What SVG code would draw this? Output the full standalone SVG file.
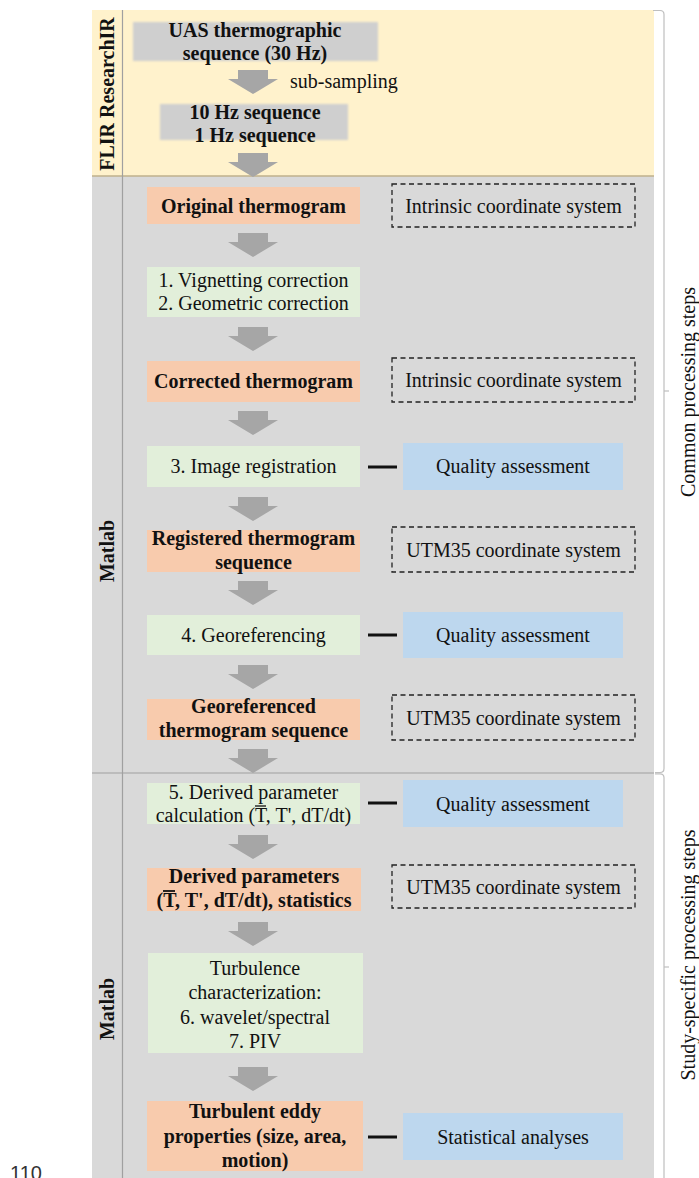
<svg xmlns="http://www.w3.org/2000/svg" width="699" height="1178" viewBox="0 0 699 1178">
<defs>
<style>
.t{font-family:"Liberation Serif","Times New Roman",serif;font-size:20px;fill:#111;text-anchor:middle}
.b{font-weight:bold}
.orange{fill:#F8CBAD}
.green{fill:#E2EFDA}
.blue{fill:#BDD7EE}
.grey{fill:#CFCFCF}
.dash{fill:none;stroke:#222;stroke-width:1.3;stroke-dasharray:5 3.5}
.arrow{fill:#A6A6A6}
.link{stroke:#111;stroke-width:3}
.brace{fill:none;stroke:#BFBFBF;stroke-width:1.2}
.bar{stroke:#111;stroke-width:1.3}
.barb{stroke:#111;stroke-width:1.8}
</style>
<path id="arr" d="M-15,0 H15 V9 H25 L0,24 L-25,9 H-15 Z"/>
<filter id="soft" x="-5%" y="-20%" width="110%" height="140%"><feGaussianBlur stdDeviation="1"/></filter>
</defs>

<!-- panels -->
<g id="panels">
<rect x="92" y="10" width="562" height="166" fill="#FFF2CC"/>
<rect x="92" y="176" width="562" height="1002" fill="#D9D9D9"/>
<line x1="92" y1="176" x2="654" y2="176" stroke="#BFB08C" stroke-width="1.5"/>
<line x1="92" y1="773" x2="654" y2="773" stroke="#A0A0A0" stroke-width="1.2"/>
<line x1="122.5" y1="10" x2="122.5" y2="1178" stroke="#A0A0A0" stroke-width="1.2"/>
</g>

<!-- side labels -->
<g id="lbl-flir"><text class="t b" transform="translate(114,94) rotate(-90)">FLIR ResearchIR</text></g>
<g id="lbl-matlab1"><text class="t b" transform="translate(114,551) rotate(-90)">Matlab</text></g>
<g id="lbl-matlab2"><text class="t b" transform="translate(114,1009) rotate(-90)">Matlab</text></g>

<!-- braces -->
<g id="brace-common">
<path class="brace" d="M653,10.5 H660 Q664,10.5 664,14.5 V768.5 Q664,772.5 660,772.5 H655"/>
<path class="brace" d="M664,391 H669"/>
<text class="t" transform="translate(695,392) rotate(-90)">Common processing steps</text>
</g>
<g id="brace-study">
<path class="brace" d="M655,773.8 H660 Q664,773.8 664,777.8 V1178"/>
<path class="brace" d="M664,967 H669"/>
<text class="t" transform="translate(695,955) rotate(-90)">Study-specific processing steps</text>
</g>

<!-- nodes -->
<g id="uas-seq">
<rect class="grey" x="133" y="22" width="245" height="39" filter="url(#soft)"/>
<text class="t b" x="255" y="37">UAS thermographic</text>
<text class="t b" x="255" y="60">sequence (30 Hz)</text>
</g>
<g id="subsampled">
<rect class="grey" x="160" y="104" width="188" height="36" filter="url(#soft)"/>
<text class="t b" x="255" y="119">10 Hz sequence</text>
<text class="t b" x="255" y="142">1 Hz sequence</text>
</g>
<g id="original">
<rect class="orange" x="147" y="187" width="213" height="37"/>
<text class="t b" x="253.5" y="213">Original thermogram</text>
</g>
<g id="corrections">
<rect class="green" x="147" y="267" width="213" height="50"/>
<text class="t" x="253.5" y="287">1. Vignetting correction</text>
<text class="t" x="253.5" y="310">2. Geometric correction</text>
</g>
<g id="corrected">
<rect class="orange" x="147" y="361" width="213" height="41"/>
<text class="t b" x="253.5" y="388">Corrected thermogram</text>
</g>
<g id="registration">
<rect class="green" x="147" y="446" width="213" height="41"/>
<text class="t" x="253.5" y="473">3. Image registration</text>
</g>
<g id="registered">
<rect class="orange" x="147" y="530" width="213" height="42"/>
<text class="t b" x="253.5" y="545">Registered thermogram</text>
<text class="t b" x="253.5" y="569">sequence</text>
</g>
<g id="georeferencing">
<rect class="green" x="147" y="615" width="213" height="40"/>
<text class="t" x="253.5" y="642">4. Georeferencing</text>
</g>
<g id="georeferenced">
<rect class="orange" x="147" y="699" width="213" height="41"/>
<text class="t b" x="253.5" y="713">Georeferenced</text>
<text class="t b" x="253.5" y="737">thermogram sequence</text>
</g>
<g id="derived-calc">
<rect class="green" x="147" y="783" width="213" height="41"/>
<text class="t" x="253.5" y="799">5. Derived parameter</text>
<text class="t" x="253.5" y="822">calculation (T, T', dT/dt)</text>
<line class="bar" x1="255" y1="806" x2="266" y2="806"/>
</g>
<g id="derived-params">
<rect class="orange" x="147" y="868" width="214" height="43"/>
<text class="t b" x="254" y="883">Derived parameters</text>
<text class="t b" x="254" y="907">(T, T', dT/dt), statistics</text>
<line class="barb" x1="163" y1="891" x2="175" y2="891"/>
</g>
<g id="turbulence">
<rect class="green" x="148" y="953" width="215" height="100"/>
<text class="t" x="255" y="975">Turbulence</text>
<text class="t" x="255" y="999">characterization:</text>
<text class="t" x="255" y="1023.5">6. wavelet/spectral</text>
<text class="t" x="255" y="1048">7. PIV</text>
</g>
<g id="eddy">
<rect class="orange" x="147" y="1101" width="216" height="70"/>
<text class="t b" x="255" y="1118">Turbulent eddy</text>
<text class="t b" x="255" y="1143">properties (size, area,</text>
<text class="t b" x="255" y="1167">motion)</text>
</g>

<g id="cs-intrinsic-1">
<rect class="dash" x="392" y="184" width="243" height="43"/>
<text class="t" x="513.5" y="213">Intrinsic coordinate system</text>
</g>
<g id="cs-intrinsic-2">
<rect class="dash" x="392" y="358" width="243" height="44"/>
<text class="t" x="513.5" y="387">Intrinsic coordinate system</text>
</g>
<g id="qa-1">
<rect class="blue" x="403" y="443" width="220" height="47"/>
<text class="t" x="513" y="473">Quality assessment</text>
</g>
<g id="cs-utm-1">
<rect class="dash" x="392" y="527" width="243" height="45"/>
<text class="t" x="513.5" y="557">UTM35 coordinate system</text>
</g>
<g id="qa-2">
<rect class="blue" x="403" y="612" width="220" height="46"/>
<text class="t" x="513" y="642">Quality assessment</text>
</g>
<g id="cs-utm-2">
<rect class="dash" x="392" y="695" width="243" height="45"/>
<text class="t" x="513.5" y="725">UTM35 coordinate system</text>
</g>
<g id="qa-3">
<rect class="blue" x="403" y="780" width="220" height="47"/>
<text class="t" x="513" y="811">Quality assessment</text>
</g>
<g id="cs-utm-3">
<rect class="dash" x="392" y="865" width="243" height="43"/>
<text class="t" x="513.5" y="894">UTM35 coordinate system</text>
</g>
<g id="stats">
<rect class="blue" x="403" y="1113" width="220" height="47"/>
<text class="t" x="513" y="1144">Statistical analyses</text>
</g>

<!-- connectors -->
<g id="connectors">
<use href="#arr" class="arrow" x="253" y="70"/>
<text class="t" x="290" y="88" style="text-anchor:start">sub-sampling</text>
<use href="#arr" class="arrow" x="253" y="153"/>
<use href="#arr" class="arrow" x="253" y="233"/>
<use href="#arr" class="arrow" x="253" y="327"/>
<use href="#arr" class="arrow" x="253" y="411"/>
<use href="#arr" class="arrow" x="253" y="497"/>
<use href="#arr" class="arrow" x="253" y="581"/>
<use href="#arr" class="arrow" x="253" y="665"/>
<use href="#arr" class="arrow" x="253" y="749"/>
<use href="#arr" class="arrow" x="253" y="835"/>
<use href="#arr" class="arrow" x="253" y="922"/>
<use href="#arr" class="arrow" x="253" y="1067"/>
<line class="link" x1="368" y1="467" x2="397" y2="467"/>
<line class="link" x1="368" y1="635" x2="397" y2="635"/>
<line class="link" x1="368" y1="803" x2="397" y2="803"/>
<line class="link" x1="368" y1="1137" x2="397" y2="1137"/>
</g>

<text x="10" y="1180" style="font-family:'Liberation Sans',Arial,sans-serif;font-size:20px;fill:#333">110</text>
</svg>
